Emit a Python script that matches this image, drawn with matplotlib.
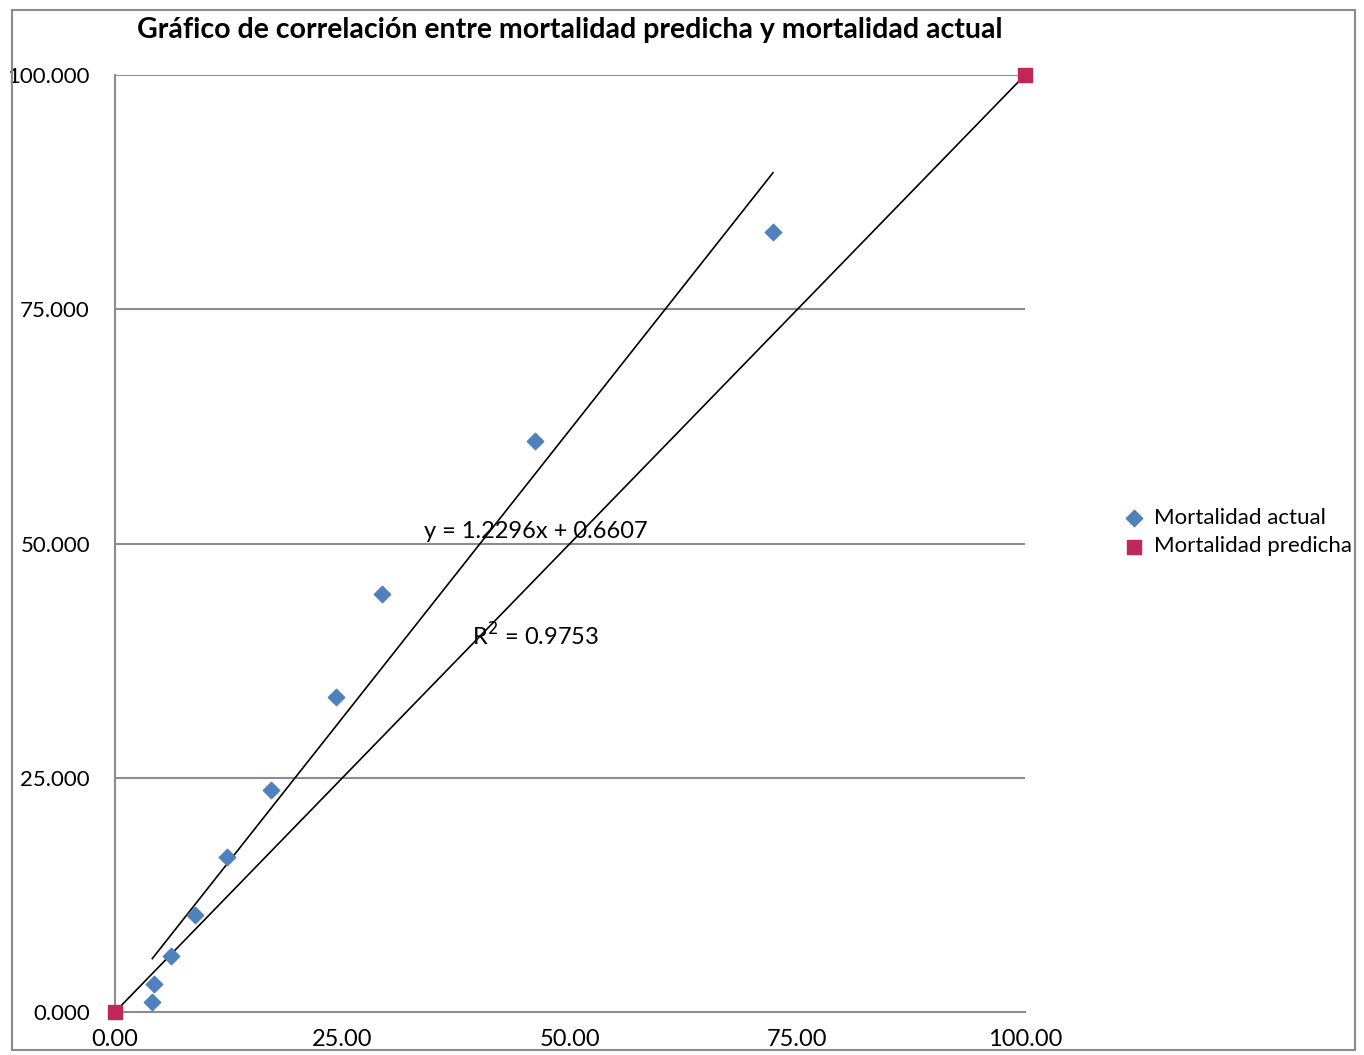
import matplotlib
matplotlib.use("Agg")
import matplotlib.pyplot as plt
from matplotlib.patches import Rectangle
from matplotlib.ticker import FormatStrFormatter

plt.rcParams['font.family'] = ['Lato', 'DejaVu Sans']

# Data
actual_x = [72.3, 46.2, 29.3, 24.3, 17.1, 12.3, 8.8, 6.2, 4.3, 4.1]
actual_y = [83.2, 60.9, 44.6, 33.6, 23.7, 16.5, 10.4, 6.0, 3.0, 1.1]
pred_x = [0.0, 100.0]
pred_y = [0.0, 100.0]
slope, intercept = 1.2296, 0.6607
r2 = 0.9753
x_ticks = [0, 25, 50, 75, 100]
y_ticks = [0, 25, 50, 75, 100]

fig = plt.figure(figsize=(13.64, 10.55), dpi=100)
fig.patches.append(Rectangle((12/1364, 5/1055), 1343/1364, 1040/1055, transform=fig.transFigure,
                             fill=False, edgecolor='#8a8a8a', linewidth=1.5))
ax = fig.add_axes([115/1364, 43/1055, 910/1364, 937/1055])

ax.set_xlim(0, 100)
ax.set_ylim(0, 100)
for t in y_ticks[1:]:
    ax.axhline(t, color='#8c8c8c', linewidth=1.5, zorder=1)

# trend line over the range of actual x
xmin, xmax = min(actual_x), max(actual_x)
ax.plot([xmin, xmax], [slope*xmin + intercept, slope*xmax + intercept], color='black', linewidth=1.2, zorder=2)
# line between predicted points
ax.plot(pred_x, pred_y, color='black', linewidth=1.2, zorder=2)

ax.scatter(actual_x, actual_y, marker='D', s=70, color='#4F81BD', zorder=3, label='Mortalidad actual')
ax.scatter(pred_x, pred_y, marker='s', s=110, color='#C0285A', zorder=4, label='Mortalidad predicha', clip_on=False)

ax.text(46.2, 51.3, f"y = {slope}x + {intercept}", fontsize=17, ha='center', va='center', zorder=5)
ax.text(46.2, 40.1, f"R$^2$ = {r2}", fontsize=17, ha='center', va='center', zorder=5)

for s in ['top', 'right']:
    ax.spines[s].set_visible(False)
ax.spines['left'].set_color('#8c8c8c')
ax.spines['bottom'].set_color('#8c8c8c')
ax.spines['left'].set_linewidth(1.5)
ax.spines['bottom'].set_linewidth(1.5)

ax.set_xticks(x_ticks)
ax.set_yticks(y_ticks)
ax.xaxis.set_major_formatter(FormatStrFormatter('%.2f'))
ax.yaxis.set_major_formatter(FormatStrFormatter('%.3f'))
ax.tick_params(axis='y', length=0, labelsize=16, pad=18)
ax.tick_params(axis='x', length=0, labelsize=17, pad=12)

fig.text(570/1364, 1 - 30/1055, "Gráfico de correlación entre mortalidad predicha y mortalidad actual",
         fontsize=20.5, ha='center', va='center', fontweight='bold')

leg = fig.legend(loc='center left', bbox_to_anchor=(1110/1364, 1 - 532/1055), frameon=False,
                 fontsize=16, handletextpad=0.3, labelspacing=0.4, borderpad=0, handlelength=1.2)

fig.savefig('out.png', dpi=100)
